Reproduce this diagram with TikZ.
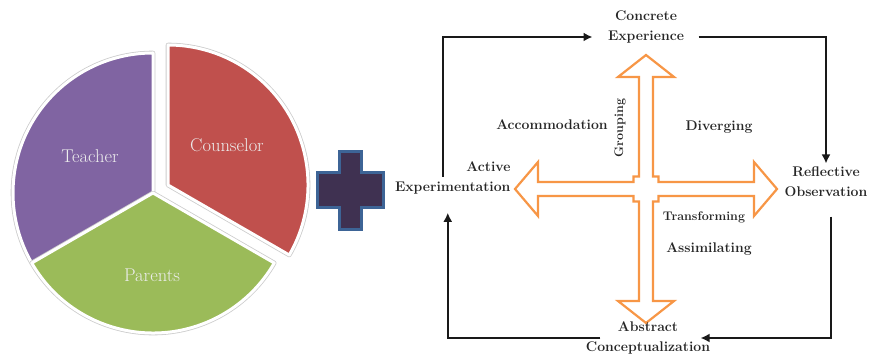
\documentclass[tikz,border=0pt]{standalone}
\usetikzlibrary{positioning, arrows, arrows.meta}
\definecolor{piepurple}{HTML}{8064A2}
\definecolor{piered}{HTML}{C0504D}
\definecolor{piegreen}{HTML}{9BBB59}
\definecolor{plusfill}{HTML}{3F3151}
\definecolor{plusedge}{HTML}{3D6496}
\definecolor{crossorange}{HTML}{F79646}
\definecolor{inktext}{HTML}{262626}

\begin{document}
\begin{tikzpicture}[x=1pt, y=1pt,
    slice/.style={draw=white, line width=3pt, line join=round,
        preaction={draw=black!20, line width=4.6pt, line join=round}},
    pielabel/.style={text=white!93!black, font=\fontsize{18.5}{22}\selectfont},
    stage/.style={font=\fontsize{14}{20}\selectfont\bfseries, align=center, text=inktext},
    mode/.style={font=\fontsize{14}{17}\selectfont\bfseries, text=inktext},
    smallmode/.style={font=\fontsize{12.5}{15}\selectfont\bfseries, text=inktext},
    loopline/.style={-{Latex[length=9pt, width=9pt]}, line width=2.2pt, black!90}]
    \useasboundingbox (0,0) rectangle (869,358);

    % pie
    \draw[slice, fill=piepurple] (153,165) -- ++(90:140) arc[start angle=90, end angle=210, radius=140] -- cycle;
    \draw[slice, fill=piegreen] (153,165) -- ++(210:140) arc[start angle=210, end angle=330, radius=140] -- cycle;
    \draw[slice, fill=piered] (168,173) -- ++(-30:140) arc[start angle=-30, end angle=90, radius=140] -- cycle;
    \node[pielabel] (teacher) at (90,202) {Teacher};
    \node[pielabel] (counselor) at (227,213) {Counselor};
    \node[pielabel] (parents) at (152,83) {Parents};

    % plus sign
    \draw[fill=plusfill, draw=plusedge, line width=3pt, line join=miter]
        (339,206) -- (361,206) -- (361,185) -- (383,185) -- (383,150) -- (361,150)
        -- (361,128) -- (339,128) -- (339,150) -- (317,150) -- (317,185) -- (339,185) -- cycle;

    % cross of arrows
    \begin{scope}[shift={(646,169)}]
        \draw[fill=white, draw=crossorange, line width=2.2pt, line join=miter]
            (131,0) -- (108,27) -- (108,7) -- (12.5,7) -- (12.5,12.5) -- (7,12.5)
            -- (7,112) -- (28,112) -- (0,134) -- (-28,112) -- (-7,112) -- (-7,12.5)
            -- (-12.5,12.5) -- (-12.5,7) -- (-108,7) -- (-108,27) -- (-131,0)
            -- (-108,-27) -- (-108,-7) -- (-12.5,-7) -- (-12.5,-12.5) -- (-7,-12.5)
            -- (-7,-112) -- (-28,-112) -- (0,-134) -- (28,-112) -- (7,-112) -- (7,-12.5)
            -- (12.5,-12.5) -- (12.5,-7) -- (108,-7) -- (108,-27) -- cycle;
    \end{scope}

    % stages
    \node[stage] (ce) at (646,331) {Concrete\\Experience};
    \node[stage] (rf) at (826,176) {Reflective\\Observation};
    \node[stage] (ac) at (648,20) {Abstract\\Conceptualization};
    \node[stage, align=right, anchor=east] (ae) at (514,180) {Active\\Experimentation};

    % cycle
    \draw[loopline] ([shift={(-10,1)}]ae.center) |- ([shift={(-12,-10)}]ce.west);
    \draw[loopline] ([shift={(11,-10)}]ce.east) -| (rf.north);
    \draw[loopline] ([shift={(5,-16)}]rf.south) |- ([xshift=-13pt]ac.east);
    \draw[loopline] ([xshift=18pt]ac.west) -| ([shift={(-5,-15)}]ae.south);

    % learning modes
    \node[mode] (acc) at (552,233) {Accommodation};
    \node[smallmode, rotate=90] (grp) at (620,230) {Grouping};
    \node[mode] (div) at (719,231) {Diverging};
    \node[smallmode] (trf) at (704,141) {Transforming};
    \node[mode] (asm) at (709,109) {Assimilating};
\end{tikzpicture}
\end{document}
